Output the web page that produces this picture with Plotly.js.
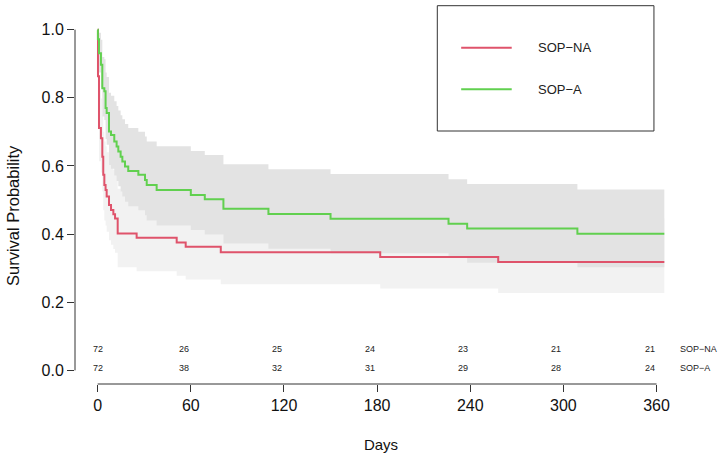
<!DOCTYPE html>
<html>
<head>
<meta charset="utf-8">
<script src="https://cdn.plot.ly/plotly-3.0.1.min.js"></script>
<style>html,body{margin:0;padding:0;background:#fff}#chart{width:719px;height:464px}</style>
</head>
<body>
<div id="chart"></div>
<script>
// ---- data ----
const groupNames = ['SOP\u2212NA', 'SOP\u2212A'];
const seriesColors = ['#DF536B', '#61D04F'];
const bandColors = ['#F2F2F2', '#E3E3E3'];

const naTime  = [0, 0.2, 0.85, 2.1, 3.0, 3.6, 4.3, 5.1, 5.8, 7.3, 8.6, 10.1, 11.2, 12.9, 25.1, 50.9, 56.7, 79.3, 182, 258, 365];
const naSurv  = [1.0, 0.863, 0.711, 0.681, 0.627, 0.574, 0.544, 0.529, 0.510, 0.485, 0.471, 0.458, 0.446, 0.402, 0.389, 0.375, 0.363, 0.347, 0.333, 0.318, 0.318];
const naUpper = [1.0, 0.946, 0.824, 0.798, 0.749, 0.700, 0.672, 0.658, 0.640, 0.615, 0.602, 0.589, 0.577, 0.533, 0.520, 0.505, 0.493, 0.476, 0.462, 0.446, 0.446];
const naLower = [1.0, 0.787, 0.614, 0.581, 0.525, 0.470, 0.440, 0.425, 0.407, 0.382, 0.369, 0.356, 0.345, 0.303, 0.291, 0.278, 0.267, 0.253, 0.240, 0.227, 0.227];

const aTime  = [0, 0.15, 0.85, 2.1, 3.0, 4.3, 5.1, 5.8, 7.3, 8.6, 10.7, 12.2, 13.3, 14.8, 15.9, 17.6, 19.7, 26.2, 30.5, 31.6, 38, 60, 69, 81, 110, 150, 226, 238, 309, 365];
const aSurv  = [1.0, 0.972, 0.931, 0.897, 0.828, 0.819, 0.770, 0.755, 0.701, 0.691, 0.672, 0.657, 0.642, 0.627, 0.613, 0.598, 0.585, 0.574, 0.559, 0.544, 0.529, 0.515, 0.502, 0.474, 0.459, 0.445, 0.430, 0.416, 0.401, 0.401];
const aUpper = [1.0, 1.0, 0.991, 0.970, 0.920, 0.913, 0.874, 0.861, 0.815, 0.806, 0.790, 0.776, 0.763, 0.749, 0.737, 0.723, 0.711, 0.700, 0.686, 0.672, 0.658, 0.644, 0.632, 0.605, 0.590, 0.576, 0.561, 0.547, 0.531, 0.531];
const aLower = [1.0, 0.935, 0.874, 0.830, 0.745, 0.735, 0.679, 0.662, 0.603, 0.592, 0.572, 0.556, 0.540, 0.525, 0.510, 0.495, 0.482, 0.470, 0.455, 0.440, 0.425, 0.412, 0.399, 0.372, 0.357, 0.344, 0.330, 0.316, 0.303, 0.303];

const xTicks = [0, 60, 120, 180, 240, 300, 360];
const yTicks = [0, 0.2, 0.4, 0.6, 0.8, 1.0];
const yTickText = ['0.0', '0.2', '0.4', '0.6', '0.8', '1.0'];
const naRisk = [72, 26, 25, 24, 23, 21, 21];
const aRisk  = [72, 38, 32, 31, 29, 28, 24];

// ---- layout constants ----
const xRange = [-14.6, 379.6];
const yRange = [-0.04, 1.04];
const FONT = 'Liberation Sans, Arial, Helvetica, sans-serif';
const riskY = [0.064, 0.007];

const band = (x, y, fill, color) => ({
  x: x, y: y, type: 'scatter', mode: 'lines',
  line: {shape: 'hv', width: 0, color: 'rgba(0,0,0,0)'},
  fill: fill, fillcolor: color, hoverinfo: 'skip', showlegend: false
});

const traces = [
  band(naTime, naLower, 'none', bandColors[0]),
  band(naTime, naUpper, 'tonexty', bandColors[0]),
  band(aTime, aLower, 'none', bandColors[1]),
  band(aTime, aUpper, 'tonexty', bandColors[1]),
  {x: naTime, y: naSurv, type: 'scatter', mode: 'lines', name: groupNames[0],
   line: {shape: 'hv', width: 2, color: seriesColors[0]}, showlegend: false},
  {x: aTime, y: aSurv, type: 'scatter', mode: 'lines', name: groupNames[1],
   line: {shape: 'hv', width: 2, color: seriesColors[1]}, showlegend: false}
];

const toPX = d => (d - xRange[0]) / (xRange[1] - xRange[0]);
const toPY = d => (d - yRange[0]) / (yRange[1] - yRange[0]);

const annotations = [];
const rows = [naRisk, aRisk];
rows.forEach((row, r) => {
  row.forEach((n, i) => {
    annotations.push({
      x: xTicks[i], y: riskY[r], xref: 'x', yref: 'y', text: String(n),
      showarrow: false, xanchor: i === 0 ? 'center' : 'right', yanchor: 'middle',
      font: {family: FONT, size: 9, color: '#222'}
    });
  });
  annotations.push({
    x: 0.985, y: riskY[r], xref: 'paper', yref: 'y', text: groupNames[r],
    showarrow: false, xanchor: 'left', yanchor: 'middle',
    font: {family: FONT, size: 9, color: '#222'}
  });
});

// y axis title placed like the reference
annotations.push({
  x: -0.101, y: 0.457, xref: 'paper', yref: 'paper', text: 'Survival Probability',
  textangle: -90, showarrow: false, xanchor: 'center', yanchor: 'middle',
  font: {family: FONT, size: 16.5, color: '#111'}
});

// legend (drawn box)
const legBox = {x0: 0.592, x1: 0.946, y0: 0.6875, y1: 1.028};
const legRows = [0.914, 0.8008];
const shapes = [
  {type: 'line', xref: 'paper', yref: 'paper', x0: toPX(0), x1: toPX(360), y0: 0, y1: 0,
   line: {color: '#333', width: 1}},
  {type: 'line', xref: 'paper', yref: 'paper', x0: 0, x1: 0, y0: toPY(0), y1: toPY(1),
   line: {color: '#333', width: 1}},
  {type: 'rect', xref: 'paper', yref: 'paper', x0: legBox.x0, x1: legBox.x1, y0: legBox.y0, y1: legBox.y1,
   line: {color: '#333', width: 1}, fillcolor: '#fff'}
];
legRows.forEach((ly, i) => {
  shapes.push({type: 'line', xref: 'paper', yref: 'paper', x0: 0.631, x1: 0.7136, y0: ly, y1: ly,
    line: {color: seriesColors[i], width: 2}});
  annotations.push({x: 0.753, y: ly, xref: 'paper', yref: 'paper', text: groupNames[i],
    showarrow: false, xanchor: 'left', yanchor: 'middle',
    font: {family: FONT, size: 13, color: '#222'}});
});

const layout = {
  width: 719, height: 464,
  margin: {l: 75, r: 32, t: 16, b: 80},
  paper_bgcolor: '#fff', plot_bgcolor: '#fff',
  font: {family: FONT, color: '#111'},
  showlegend: false,
  xaxis: {
    range: xRange, tickvals: xTicks, ticktext: xTicks.map(String),
    ticks: 'outside', ticklen: 7, tickwidth: 1, tickcolor: '#333',
    showgrid: false, zeroline: false, showline: false,
    tickfont: {family: FONT, size: 16, color: '#111'},
    title: {text: 'Days', standoff: 26, font: {family: FONT, size: 15, color: '#111'}}
  },
  yaxis: {
    range: yRange, tickvals: yTicks, ticktext: yTickText,
    ticks: 'outside', ticklen: 7, tickwidth: 1, tickcolor: '#333',
    showgrid: false, zeroline: false, showline: false,
    tickfont: {family: FONT, size: 16, color: '#111'},
    title: {text: ''}
  },
  shapes: shapes,
  annotations: annotations
};

Plotly.newPlot('chart', traces, layout, {displayModeBar: false, staticPlot: true});
</script>
</body>
</html>
